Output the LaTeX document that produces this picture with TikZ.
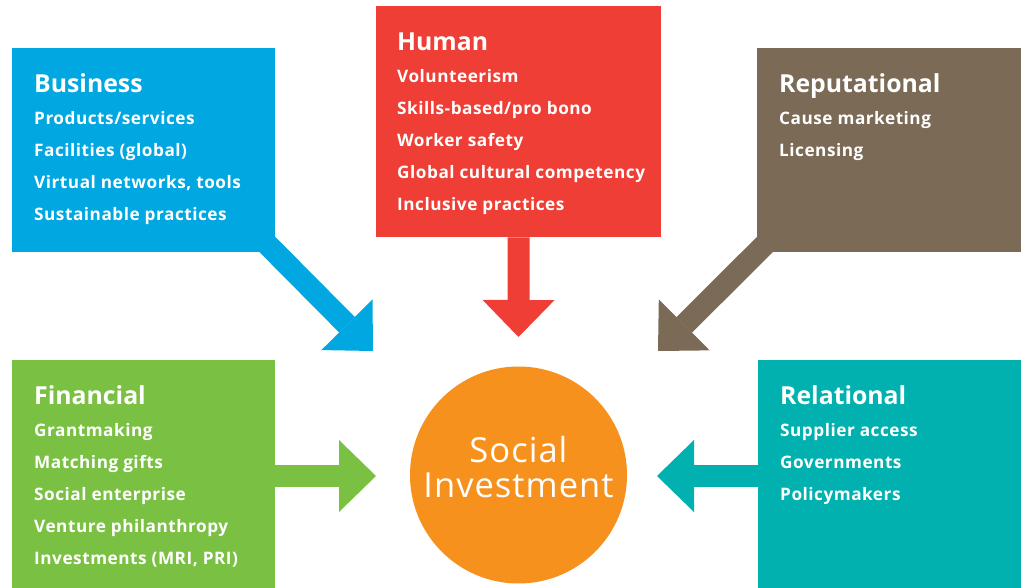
\documentclass[tikz,border=0pt]{standalone}
\usepackage{fontspec}
\setmainfont{Open Sans}
\usetikzlibrary{arrows.meta}
\pgfdeclarelayer{background}
\pgfsetlayers{background,main}
\definecolor{bizblue}{RGB}{0,167,225}
\definecolor{humred}{RGB}{238,62,54}
\definecolor{repbrown}{RGB}{123,106,85}
\definecolor{fingreen}{RGB}{122,193,67}
\definecolor{relteal}{RGB}{0,177,175}
\definecolor{siorange}{RGB}{246,145,30}
\begin{document}
\begin{tikzpicture}[x=1pt,y=-1pt,
    box/.style={fill=#1, inner sep=0pt, anchor=north west},
    ttl/.style={text=white, font=\bfseries\fontsize{24.8}{30}\selectfont, anchor=base west, inner sep=0pt},
    itm/.style={text=white, font=\bfseries\fontsize{17.2}{20}\selectfont\addfontfeature{LetterSpace=3}, anchor=base west, inner sep=0pt},
    bigarrow/.style={draw=#1, line width=22pt, -{Triangle[width=72pt,length=37pt,line width=0pt]}}]
    \useasboundingbox (0,0) rectangle (1021,588);

    % Business
    \node[box=bizblue, minimum width=263pt, minimum height=204pt] (biz) at (12,48) {};
    \node[ttl] (bizttl) at ([shift={(22,44.5)}]biz.north west) {Business};
    \foreach \t [count=\i] in {Products/services, Facilities (global), {Virtual networks, tools}, Sustainable practices}
        \node[itm] (biz\i) at ([shift={(22,44.5+32*\i)}]biz.north west) {\t};

    % Human
    \node[box=humred, minimum width=285pt, minimum height=231pt] (hum) at (376,6) {};
    \node[ttl] (humttl) at ([shift={(21,44.5)}]hum.north west) {Human};
    \foreach \t [count=\i] in {Volunteerism, Skills-based/pro bono, Worker safety, Global cultural competency, Inclusive practices}
        \node[itm] (hum\i) at ([shift={(21,44.5+32*\i)}]hum.north west) {\t};

    % Reputational
    \node[box=repbrown, minimum width=264pt, minimum height=204pt] (rep) at (757,48) {};
    \node[ttl] (repttl) at ([shift={(22,44.5)}]rep.north west) {Reputational};
    \foreach \t [count=\i] in {Cause marketing, Licensing}
        \node[itm] (rep\i) at ([shift={(22,44.5+32*\i)}]rep.north west) {\t};

    % Financial
    \node[box=fingreen, minimum width=263pt, minimum height=228pt] (fin) at (12,360) {};
    \node[ttl] (finttl) at ([shift={(22,44.5)}]fin.north west) {Financial};
    \foreach \t [count=\i] in {Grantmaking, Matching gifts, Social enterprise, Venture philanthropy, {Investments (MRI, PRI)}}
        \node[itm] (fin\i) at ([shift={(22,44.5+32*\i)}]fin.north west) {\t};

    % Relational
    \node[box=relteal, minimum width=263pt, minimum height=228pt] (rel) at (758,360) {};
    \node[ttl] (relttl) at ([shift={(22,44.5)}]rel.north west) {Relational};
    \foreach \t [count=\i] in {Supplier access, Governments, Policymakers}
        \node[itm] (rel\i) at ([shift={(22,44.5+32*\i)}]rel.north west) {\t};

    % Social investment
    \node[circle, fill=siorange, minimum size=217pt, inner sep=0pt] (si) at (518.5,475) {};
    \node[text=white, align=center, inner sep=0pt,
        font=\fontsize{34.5}{35}\selectfont\addfontfeature{LetterSpace=3}] (sitxt) at ([yshift=8pt]si.center) {Social\\Investment};

    % Arrow heads
    \coordinate (bizhead) at (373,351);
    \coordinate (humhead) at (518.5,337);
    \coordinate (rephead) at (658,351);
    \coordinate (finhead) at (376,476);
    \coordinate (relhead) at (657,476);

    % Arrows
    \begin{pgfonlayer}{background}
        \draw[bigarrow=bizblue] ([shift={(-20,-20)}]biz.south east) -- (bizhead);
        \draw[bigarrow=humred] (hum.south) -- (humhead);
        \draw[bigarrow=repbrown] ([shift={(20,-20)}]rep.south west) -- (rephead);
        \draw[bigarrow=fingreen] (fin.east |- finhead) -- (finhead);
        \draw[bigarrow=relteal] (rel.west |- relhead) -- (relhead);
    \end{pgfonlayer}
\end{tikzpicture}
\end{document}
